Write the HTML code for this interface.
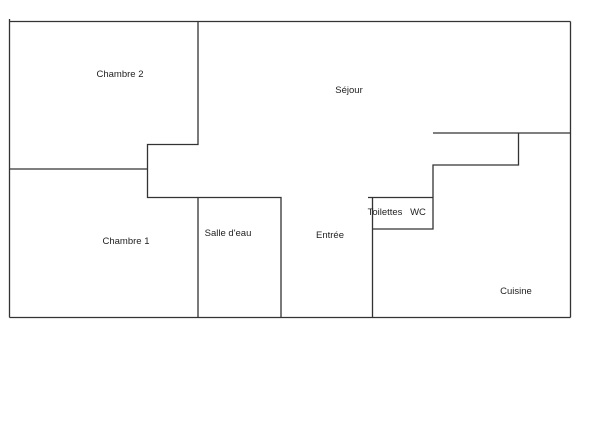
<!DOCTYPE html>
<html><head><meta charset="utf-8"><style>
html,body{margin:0;padding:0;background:#fff;}
svg{display:block;}
text{font-family:"Liberation Sans",sans-serif;font-size:9.5px;fill:#222;}
</style></head><body>
<svg width="600" height="421" viewBox="0 0 600 421" xmlns="http://www.w3.org/2000/svg">
<g stroke="#333" stroke-width="1.3" fill="none">
<line x1="9.5" y1="19" x2="9.5" y2="317.5"/>
<line x1="9.5" y1="21.5" x2="570.5" y2="21.5"/>
<line x1="570.5" y1="21.5" x2="570.5" y2="317.5"/>
<line x1="9.5" y1="317.5" x2="570.5" y2="317.5"/>
<polyline points="198,21.5 198,144.5 147.5,144.5 147.5,197.5 281,197.5 281,317.5"/>
<line x1="9.5" y1="169" x2="147.5" y2="169"/>
<line x1="198" y1="197.5" x2="198" y2="317.5"/>
<line x1="433" y1="133" x2="570.5" y2="133"/>
<polyline points="518.5,133 518.5,165 433,165 433,229 372.5,229"/>
<line x1="368" y1="197.5" x2="433" y2="197.5"/>
<line x1="372.5" y1="197.5" x2="372.5" y2="317.5"/>
</g>
<text x="120" y="77" text-anchor="middle">Chambre 2</text>
<text x="349" y="93" text-anchor="middle">Séjour</text>
<text x="126" y="244" text-anchor="middle">Chambre 1</text>
<text x="228" y="236" text-anchor="middle">Salle d'eau</text>
<text x="330" y="238" text-anchor="middle">Entrée</text>
<text x="385" y="215" text-anchor="middle">Toilettes</text>
<text x="418" y="215" text-anchor="middle">WC</text>
<text x="516" y="294" text-anchor="middle">Cuisine</text>
</svg>
</body></html>
